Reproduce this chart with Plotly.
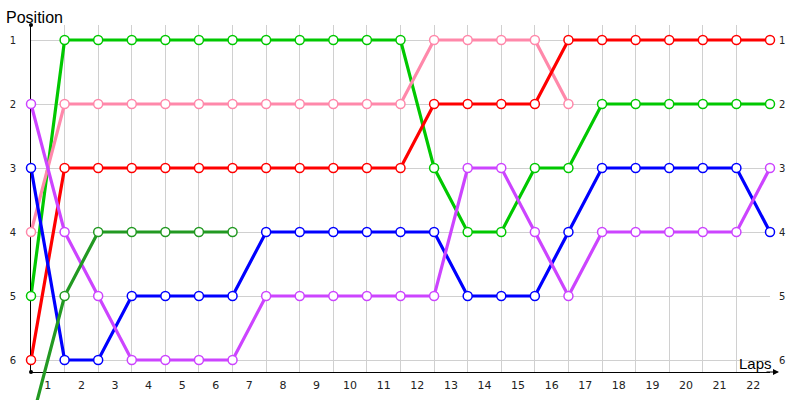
import plotly.graph_objects as go

laps = list(range(0, 23))
lap_labels = [str(i) for i in range(1, 23)]
positions = [1, 2, 3, 4, 5, 6]

green = [5, 1, 1, 1, 1, 1, 1, 1, 1, 1, 1, 1, 3, 4, 4, 3, 3, 2, 2, 2, 2, 2, 2]
pink = [4, 2, 2, 2, 2, 2, 2, 2, 2, 2, 2, 2, 1, 1, 1, 1, 2]
red = [6, 3, 3, 3, 3, 3, 3, 3, 3, 3, 3, 3, 2, 2, 2, 2, 1, 1, 1, 1, 1, 1, 1]
blue = [3, 6, 6, 5, 5, 5, 5, 4, 4, 4, 4, 4, 4, 5, 5, 5, 4, 3, 3, 3, 3, 3, 4]
purple = [2, 4, 5, 6, 6, 6, 6, 5, 5, 5, 5, 5, 5, 3, 3, 4, 5, 4, 4, 4, 4, 4, 3]
darkgreen = [7, 5, 4, 4, 4, 4, 4]

series = [
    ("green", green, "#00c800"),
    ("pink", pink, "#ff88aa"),
    ("red", red, "#ff0000"),
    ("blue", blue, "#0000ff"),
    ("purple", purple, "#cc44ff"),
    ("darkgreen", darkgreen, "#229922"),
]

W, H = 800, 400
ML, MR, MT, MB = 31, 30, 25, 0
plot_h = H - MT - MB
axis_px_from_bottom = 28
d0 = axis_px_from_bottom / plot_h
px_per_pos = 64.0
pos1_px = 40
top_pos = 1 + (MT - pos1_px) / px_per_pos
bottom_main = 1 + (H - axis_px_from_bottom - pos1_px) / px_per_pos
bottom_full = 1 + (H - pos1_px) / px_per_pos

fig = go.Figure()
for name, vals, col in series:
    fig.add_trace(go.Scatter(
        x=laps[:len(vals)], y=vals, mode="lines+markers", name=name,
        line=dict(color=col, width=3.2),
        marker=dict(size=9, color="white", line=dict(color=col, width=1.5)),
        xaxis="x2", yaxis="y2", cliponaxis=False, showlegend=False,
        hoverinfo="skip",
    ))

grid = "#d0d0d0"
tickfont = dict(family="DejaVu Sans", size=10, color="#222222")
fig.update_layout(
    width=W, height=H,
    margin=dict(l=ML, r=MR, t=MT, b=MB, autoexpand=False),
    paper_bgcolor="white", plot_bgcolor="rgba(0,0,0,0)",
    xaxis=dict(
        domain=[0, 1], range=[0, 22], anchor="y", automargin=False,
        tickvals=[i + 0.5 for i in range(22)], ticktext=lap_labels,
        showgrid=False, zeroline=False,
        showline=True, linecolor="black", linewidth=1,
        ticks="", tickfont=dict(family="DejaVu Sans", size=11, color="#222222"),
        ticklabelstandoff=3,
        minor=dict(tickvals=laps[1:], showgrid=True, gridcolor=grid, gridwidth=1, ticks=""),
    ),
    yaxis=dict(
        domain=[d0, 1], range=[bottom_main, top_pos], anchor="x", automargin=False,
        tickvals=positions, showgrid=True, gridcolor=grid, gridwidth=1,
        zeroline=False, showline=True, linecolor="black", linewidth=1,
        ticks="", tickfont=tickfont, ticklabelstandoff=12,
    ),
    yaxis3=dict(
        overlaying="y", side="right", anchor="x", range=[bottom_main, top_pos],
        automargin=False,
        tickvals=positions, showgrid=False, zeroline=False, showline=False,
        ticks="", tickfont=tickfont, ticklabelstandoff=8,
    ),
    xaxis2=dict(domain=[0, 1], range=[0, 22], anchor="y2", visible=False, automargin=False),
    yaxis2=dict(domain=[0, 1], range=[bottom_full, top_pos], anchor="x2", visible=False,
                automargin=False),
)

fig.add_trace(go.Scatter(x=[None], y=[None], xaxis="x", yaxis="y3", showlegend=False))
fig.add_trace(go.Scatter(x=[None], y=[None], xaxis="x", yaxis="y", showlegend=False))

plot_w = W - ML - MR
fig.add_annotation(xref="paper", yref="paper", x=(779 - ML) / plot_w, y=d0,
                   ax=-14, ay=0, showarrow=True, arrowhead=2, arrowsize=1,
                   arrowwidth=1.2, arrowcolor="black", text="")
fig.add_annotation(xref="paper", yref="paper", x=(4 - ML) / plot_w, y=1,
                   xanchor="left", yanchor="bottom", yshift=-3, showarrow=False,
                   text="Position", font=dict(family="Liberation Sans", size=16, color="black"))
fig.add_annotation(xref="paper", yref="paper", x=(774 - ML) / plot_w, y=d0,
                   xanchor="right", yanchor="bottom", yshift=-2, showarrow=False,
                   text="Laps", font=dict(family="Liberation Sans", size=15, color="black"))
for yy in (1, d0):
    fig.add_shape(type="circle", xref="paper", yref="paper", xsizemode="pixel",
                  ysizemode="pixel", xanchor=0, yanchor=yy, x0=-2, x1=2, y0=-2, y1=2,
                  fillcolor="black", line=dict(color="black", width=0))

fig.write_html("out.html", config={"displayModeBar": False},
               post_script="document.body.style.margin='0';")
